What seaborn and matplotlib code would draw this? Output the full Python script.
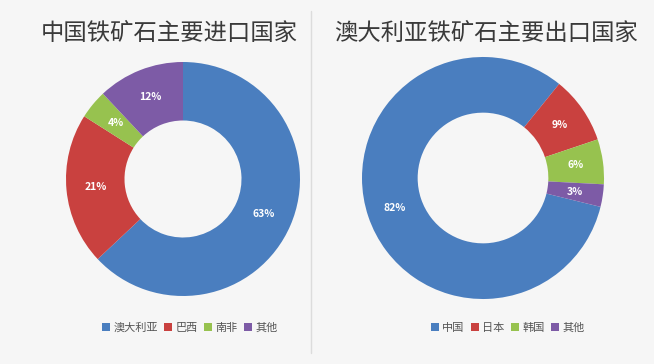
import seaborn as sns
import matplotlib.pyplot as plt
from matplotlib.patches import Patch
from matplotlib.lines import Line2D

# 数据
left_title = "中国铁矿石主要进口国家"
left_labels = ["澳大利亚", "巴西", "南非", "其他"]
left_values = [63, 21, 4, 12]

right_title = "澳大利亚铁矿石主要出口国家"
right_labels = ["中国", "日本", "韩国", "其他"]
right_values = [82, 9, 6, 3]

sns.set_theme(style="white")
plt.rcParams['font.family'] = ['Noto Sans CJK SC', 'DejaVu Sans']

colors = ["#4a7ebf", "#c9413f", "#97c24f", "#7d5ba6"]

W, H = 654, 364
fig = plt.figure(figsize=(W / 100, H / 100), dpi=100)
fig.patch.set_facecolor("#f6f6f6")


def donut(cx, cy, r, values, labels, title, tx, start, lx, width):
    ax = fig.add_axes([(cx - r) / W, 1 - (cy + r) / H, 2 * r / W, 2 * r / H])
    ax.pie(
        values, colors=colors, startangle=start, counterclock=False,
        autopct="%d%%", pctdistance=1 - width / 2,
        wedgeprops=dict(width=width, edgecolor="none"),
        textprops=dict(color="white", fontsize=7.5, fontweight="bold"),
    )
    ax.set_xlim(-1, 1)
    ax.set_ylim(-1, 1)
    ax.set_aspect("equal")
    ax.axis("off")
    fig.text(tx / W, 1 - 33 / H, title, ha="center", va="center",
             fontsize=16.8, fontweight="medium", color="#3a3a3a")
    handles = [Patch(facecolor=c, edgecolor="none") for c in colors]
    fig.legend(handles, labels, loc="center", bbox_to_anchor=(lx / W, 1 - 328 / H),
               ncol=4, frameon=False, fontsize=8, handlelength=0.7, handleheight=0.7,
               handletextpad=0.3, columnspacing=0.6, labelcolor="#555555")
    return ax


donut(183, 179, 117, left_values, left_labels, left_title, 169, 90, 190, 0.5)
donut(483, 178, 121, right_values, right_labels, right_title, 486, -13.8, 508, 0.46)

# 分隔线
fig.add_artist(Line2D([311 / W, 311 / W], [0.03, 0.97], color="#dcdcdc", lw=1))

fig.savefig("out.png", dpi=100, facecolor=fig.get_facecolor())
